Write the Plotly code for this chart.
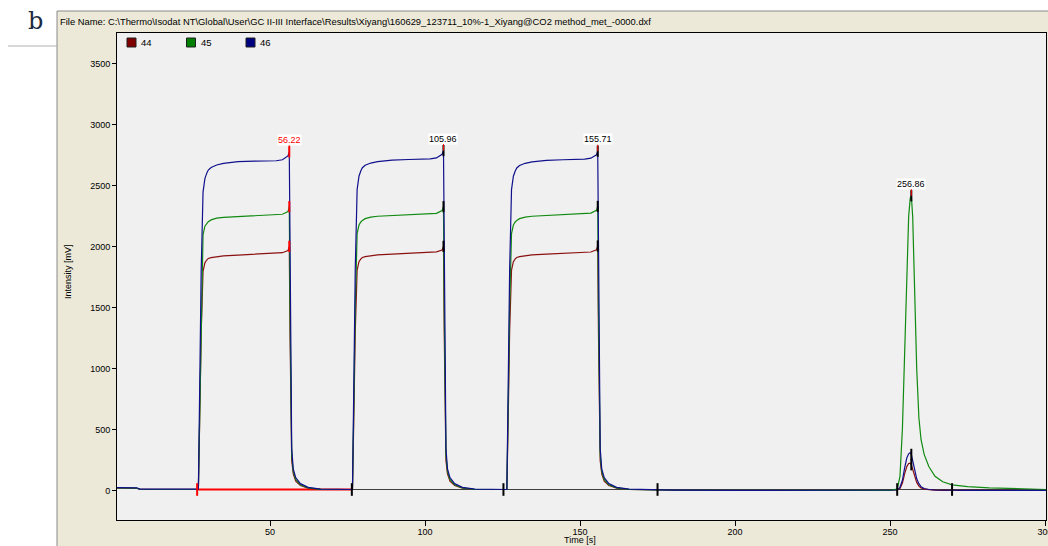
import plotly.graph_objects as go

# ---------------- data ----------------
time_s = [
    0.65, 5, 7, 8, 15, 26.5,
    # reference pulse 1
    26.9, 27.3, 27.8, 28.4, 29.0, 29.6, 30.1, 31.0, 32.8, 35.0, 39.7, 45, 52, 54, 55.8, 56.22,
    56.45, 56.7, 57.0, 57.5, 58.3, 59.8, 62.3, 66.3, 72.3, 76.2,
    # reference pulse 2
    76.6, 77.0, 77.5, 78.1, 78.7, 79.3, 79.8, 80.7, 82.5, 84.7, 89.4, 94.7, 101.7, 103.7, 105.5, 105.96,
    106.2, 106.45, 106.75, 107.25, 108.05, 109.55, 112.05, 116.05, 122.05, 126.1,
    # reference pulse 3
    126.4, 126.8, 127.3, 127.9, 128.5, 129.1, 129.6, 130.5, 132.3, 134.5, 139.2, 144.5, 151.5, 153.5, 155.3, 155.71,
    155.95, 156.2, 156.5, 157.0, 157.8, 159.3, 161.8, 165.8, 171.8, 175,
    # baseline
    180, 200, 220, 240, 250,
    # sample peak
    252.3, 253.2, 254.0, 254.7, 255.4, 256.0, 256.5, 256.86, 257.3, 257.9, 258.6, 259.3, 260.0,
    261, 262.5, 264.5, 267, 270, 275, 282, 290, 300.3,
]

mass44 = [
    24, 23, 22, 13, 12, 12,
    15, 550, 1300, 1800, 1870, 1893, 1906, 1913, 1920, 1927, 1934, 1940, 1948, 1953, 1970, 2005,
    1300, 500, 250, 140, 80, 45, 22, 12, 9, 8,
    12, 550, 1310, 1810, 1880, 1902, 1914, 1921, 1928, 1935, 1942, 1948, 1955, 1960, 1975, 2005,
    1300, 500, 250, 140, 80, 45, 22, 12, 9, 8,
    12, 550, 1310, 1810, 1880, 1902, 1914, 1921, 1928, 1935, 1942, 1948, 1954, 1959, 1976, 2008,
    1300, 500, 250, 140, 80, 45, 22, 12, 9, 8,
    6, 5, 5, 5, 5,
    8, 20, 65, 140, 200, 225, 228, 215, 180, 120, 70, 40, 25,
    15, 10, 7, 5, 5, 5, 5, 5, 5,
]

mass45 = [
    25, 24, 23, 14, 12, 12,
    15, 650, 1500, 2100, 2170, 2195, 2207, 2222, 2236, 2243, 2248, 2253, 2262, 2268, 2290, 2330,
    1500, 600, 300, 160, 95, 50, 25, 13, 9, 8,
    12, 650, 1510, 2110, 2180, 2205, 2218, 2232, 2245, 2252, 2258, 2263, 2270, 2276, 2298, 2330,
    1500, 600, 300, 160, 95, 50, 25, 13, 9, 8,
    12, 650, 1510, 2110, 2180, 2205, 2218, 2232, 2245, 2252, 2258, 2264, 2271, 2278, 2300, 2332,
    1500, 600, 300, 160, 95, 50, 25, 13, 9, 8,
    6, 5, 5, 5, 5,
    15, 120, 520, 1100, 1800, 2250, 2400, 2420, 2250, 1700, 1000, 600, 420,
    300, 200, 120, 75, 50, 35, 25, 18, 12,
]

mass46 = [
    28, 27, 26, 15, 13, 12,
    15, 800, 1800, 2450, 2560, 2605, 2631, 2652, 2672, 2685, 2700, 2703, 2707, 2715, 2746, 2780,
    1800, 700, 350, 180, 110, 60, 30, 15, 10, 9,
    12, 800, 1820, 2470, 2580, 2625, 2650, 2670, 2688, 2700, 2712, 2717, 2722, 2730, 2760, 2790,
    1800, 700, 350, 180, 110, 60, 30, 15, 10, 9,
    12, 800, 1820, 2470, 2580, 2622, 2648, 2668, 2686, 2698, 2710, 2715, 2720, 2728, 2755, 2785,
    1800, 700, 350, 180, 110, 60, 30, 15, 10, 9,
    7, 5, 5, 5, 5,
    8, 30, 90, 190, 270, 305, 315, 300, 250, 170, 100, 60, 35,
    20, 12, 8, 6, 5, 5, 5, 5, 5,
]

series_names = ["44", "45", "46"]
series_colors = ["#8B1010", "#108A10", "#10108C"]
legend_colors = ["#800000", "#008000", "#000080"]

peak_apex_times = [56.22, 105.96, 155.71, 256.86]
peak_label_colors = ["#FF0000", "#000000", "#000000", "#000000"]
peak_bounds = [26.5, 76.4, 125.3, 175.0, 252.3, 270.0]
peak_bound_colors = ["#FF0000", "#000000", "#000000", "#000000", "#000000", "#000000"]
baseline_level = 12
selected_peak = (26.5, 76.4)

file_title = ("File Name: C:\\Thermo\\Isodat NT\\Global\\User\\GC II-III Interface\\Results\\"
              "Xiyang\\160629_123711_10%-1_Xiyang@CO2 method_met_-0000.dxf")

# ---------------- figure ----------------
W, H = 1048, 546
ML, MR, MT, MB = 117, 2, 33, 26
PW, PH = W - ML - MR, H - MT - MB


def px(x):
    return (x - ML) / PW


def py(y):
    return (H - MB - y) / PH


FONT = "Liberation Sans, Arial, sans-serif"
fig = go.Figure()

series = [mass44, mass45, mass46]

# baselines of peak detection
fig.add_trace(go.Scatter(x=[selected_peak[1], time_s[-1]], y=[baseline_level, baseline_level],
                         mode="lines", line=dict(color="#404040", width=1),
                         showlegend=False, hoverinfo="skip"))
fig.add_trace(go.Scatter(x=list(selected_peak), y=[baseline_level, baseline_level],
                         mode="lines", line=dict(color="#FF0000", width=2.2),
                         showlegend=False, hoverinfo="skip"))

for name, vals, col in zip(series_names, series, series_colors):
    fig.add_trace(go.Scatter(x=time_s, y=vals, mode="lines", name=name,
                             line=dict(color=col, width=1.2), showlegend=False))

# peak boundary markers
fig.add_trace(go.Scatter(x=peak_bounds, y=[baseline_level] * len(peak_bounds), mode="markers",
                         marker=dict(symbol="line-ns", size=9,
                                     line=dict(width=2, color=peak_bound_colors)),
                         showlegend=False, hoverinfo="skip"))

# apex markers on each trace
for k, ta in enumerate(peak_apex_times):
    idx = time_s.index(ta)
    ys = [s[idx] for s in series]
    fig.add_trace(go.Scatter(x=[ta] * 3, y=ys, mode="markers",
                             marker=dict(symbol="line-ns", size=8,
                                         line=dict(width=2, color=peak_label_colors[k])),
                             showlegend=False, hoverinfo="skip"))
    fig.add_annotation(x=ta, y=max(ys), text=f"{ta:.2f}", showarrow=True, arrowhead=0,
                       arrowwidth=1, arrowcolor="#FF0000", ax=0, ay=-12,
                       font=dict(family=FONT, size=9, color=peak_label_colors[k]),
                       bgcolor="#FFFFFF", borderpad=0)

shapes = []
# beige panel
shapes.append(dict(type="rect", xref="paper", yref="paper", x0=px(57), x1=px(W + 2),
                   y0=py(H + 2), y1=py(11), fillcolor="#ECE9D8", line=dict(width=0), layer="below"))
shapes.append(dict(type="line", xref="paper", yref="paper", x0=px(57), x1=px(57),
                   y0=py(H + 2), y1=py(11), line=dict(color="#8A8A8A", width=1), layer="below"))
shapes.append(dict(type="line", xref="paper", yref="paper", x0=px(57), x1=px(W + 2),
                   y0=py(11), y1=py(11), line=dict(color="#8A8A8A", width=1), layer="below"))
# plot background
shapes.append(dict(type="rect", xref="paper", yref="paper", x0=0, x1=1, y0=0, y1=1,
                   fillcolor="#F0F0F0", line=dict(width=0), layer="below"))
# small rule near the panel letter
shapes.append(dict(type="line", xref="paper", yref="paper", x0=px(8), x1=px(57),
                   y0=py(46), y1=py(46), line=dict(color="#B0B0B0", width=1), layer="below"))

# legend: squares + labels
for i, (name, col) in enumerate(zip(series_names, legend_colors)):
    x0 = 127 + i * 59.5
    shapes.append(dict(type="rect", xref="paper", yref="paper", x0=px(x0), x1=px(x0 + 9),
                       y0=py(47), y1=py(38), fillcolor=col, line=dict(color="#202020", width=1)))
    fig.add_annotation(xref="paper", yref="paper", x=px(x0 + 12), y=py(43), text=name,
                       showarrow=False, xanchor="left", yanchor="middle",
                       font=dict(family=FONT, size=9.5, color="#000000"))

fig.add_annotation(xref="paper", yref="paper", x=px(58), y=py(21), text=file_title,
                   showarrow=False, xanchor="left", yanchor="middle",
                   font=dict(family=FONT, size=9.4, color="#000000"))
fig.add_annotation(xref="paper", yref="paper", x=px(35), y=py(21), text="b",
                   showarrow=False, xanchor="center", yanchor="middle",
                   font=dict(family="DejaVu Serif, serif", size=24, color="#1C2A40"))
fig.add_annotation(xref="paper", yref="paper", x=px(68), y=py(272), text="Intensity [mV]",
                   showarrow=False, textangle=-90, xanchor="center", yanchor="middle",
                   font=dict(family=FONT, size=9, color="#000000"))
fig.add_annotation(xref="paper", yref="paper", x=px(580), y=py(540), text="Time [s]",
                   showarrow=False, xanchor="center", yanchor="middle",
                   font=dict(family=FONT, size=9, color="#000000"))

fig.update_layout(
    width=W, height=H, margin=dict(l=ML, r=MR, t=MT, b=MB, autoexpand=False),
    paper_bgcolor="#FFFFFF", plot_bgcolor="#F0F0F0",
    shapes=shapes, showlegend=False,
    font=dict(family=FONT, size=9, color="#000000"),
)
fig.update_xaxes(range=[0.65, 300.3], tickvals=[50, 100, 150, 200, 250, 300],
                 ticks="outside", ticklen=5, tickcolor="#000000", showgrid=False,
                 zeroline=False, showline=True, linecolor="#000000", linewidth=1, mirror=True,
                 ticklabelstandoff=-2, ticklabeloverflow="allow", automargin=False,
                 tickfont=dict(family=FONT, size=9, color="#000000"))
fig.update_yaxes(range=[-238, 3754], tickvals=[0, 500, 1000, 1500, 2000, 2500, 3000, 3500],
                 ticks="outside", ticklen=4, tickcolor="#000000", showgrid=False,
                 zeroline=False, showline=True, linecolor="#000000", linewidth=1, mirror=True,
                 automargin=False,
                 tickfont=dict(family=FONT, size=9, color="#000000"))

fig.write_html("out.html")
